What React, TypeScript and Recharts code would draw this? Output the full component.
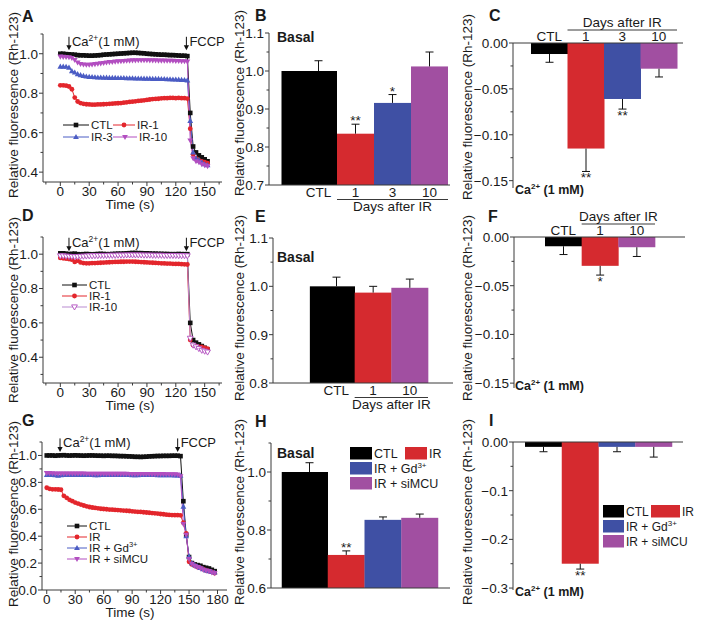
import React from 'react';
import { LineChart, Line, BarChart, Bar, XAxis, YAxis, ReferenceDot } from 'recharts';

const FONT = '"Liberation Sans", Arial, Helvetica, sans-serif';
const AXIS = '#3a3a3a';
const TXT = '#1a1a1a';

// trace colours
const C_CTL = '#111111';
const C_RED = '#e3262c';
const C_BLUE = '#4b5cc4';
const C_PURPLE = '#b24ec0';
const C_PURPLE_OPEN = '#b98bd0';

// bar colours
const BAR4 = ['#000000', '#d52a2f', '#3f50a4', '#a14fa1'];
const BAR3 = ['#000000', '#d52a2f', '#a14fa1'];

// ---------- time traces (s) ----------
const T_AD = [
  0, 3, 6, 9, 12, 15, 18, 21, 24, 27,
  30, 33, 36, 39, 42, 45, 48, 51, 54, 57,
  60, 63, 66, 69, 72, 75, 78, 81, 84, 87,
  90, 93, 96, 99, 102, 105, 108, 111, 114, 117,
  120, 123, 126, 129, 132, 135, 138, 141, 144, 147,
  150, 153,
];

const CTL_A = [
  1.0, 1.0, 0.998, 0.997, 0.996, 0.995, 0.993, 0.992, 0.992, 0.991,
  0.99, 0.99, 0.991, 0.992, 0.993, 0.995, 0.996, 0.997, 0.998, 0.999,
  1.0, 1.001, 1.002, 1.003, 1.004, 1.005, 1.005, 1.004, 1.003, 1.002,
  1.0, 0.999, 0.998, 0.997, 0.996, 0.995, 0.995, 0.994, 0.993, 0.993,
  0.992, 0.991, 0.99, 0.99, 0.988, 0.70, 0.53, 0.50, 0.485, 0.475,
  0.465, 0.455,
];
const IR1_A = [
  0.84, 0.84, 0.838, 0.834, 0.82, 0.778, 0.758, 0.75, 0.746, 0.744,
  0.743, 0.742, 0.742, 0.743, 0.743, 0.744, 0.745, 0.746, 0.747, 0.748,
  0.749, 0.75, 0.752, 0.754, 0.756, 0.757, 0.759, 0.761, 0.762, 0.764,
  0.766, 0.768, 0.77, 0.771, 0.772, 0.774, 0.775, 0.775, 0.776, 0.776,
  0.775, 0.776, 0.775, 0.775, 0.773, 0.62, 0.49, 0.47, 0.46, 0.455,
  0.45, 0.445,
];
const IR3_A = [
  0.935, 0.935, 0.934, 0.93, 0.912, 0.905, 0.897, 0.892, 0.888, 0.885,
  0.883, 0.882, 0.881, 0.88, 0.88, 0.879, 0.879, 0.878, 0.878, 0.878,
  0.877, 0.877, 0.877, 0.876, 0.876, 0.876, 0.875, 0.875, 0.875, 0.874,
  0.874, 0.874, 0.873, 0.873, 0.873, 0.872, 0.872, 0.871, 0.871, 0.87,
  0.87, 0.869, 0.868, 0.867, 0.865, 0.66, 0.50, 0.47, 0.46, 0.45,
  0.44, 0.435,
];
const IR10_A = [
  0.985, 0.984, 0.983, 0.982, 0.978, 0.968, 0.955, 0.948, 0.945, 0.944,
  0.944, 0.945, 0.947, 0.949, 0.951, 0.953, 0.955, 0.957, 0.958, 0.96,
  0.961, 0.962, 0.963, 0.964, 0.965, 0.966, 0.966, 0.967, 0.967, 0.967,
  0.967, 0.966, 0.966, 0.966, 0.965, 0.965, 0.965, 0.964, 0.964, 0.964,
  0.963, 0.963, 0.962, 0.962, 0.96, 0.56, 0.47, 0.455, 0.45, 0.44,
  0.435, 0.43,
];

const CTL_D = [
  1.005, 1.005, 1.003, 1.0, 1.002, 1.003, 1.0, 0.999, 1.0, 1.001,
  1.0, 0.999, 1.0, 1.001, 1.002, 1.001, 1.0, 1.0, 1.001, 1.002,
  1.003, 1.003, 1.004, 1.005, 1.006, 1.007, 1.007, 1.006, 1.006, 1.005,
  1.005, 1.004, 1.003, 1.003, 1.002, 1.002, 1.001, 1.001, 1.0, 1.0,
  1.0, 1.001, 1.0, 1.0, 1.0, 0.60, 0.50, 0.485, 0.475, 0.465,
  0.455, 0.445,
];
const IR1_D = [
  0.978, 0.976, 0.974, 0.972, 0.968, 0.955, 0.962, 0.952, 0.948, 0.947,
  0.947, 0.948, 0.948, 0.949, 0.95, 0.951, 0.952, 0.953, 0.954, 0.955,
  0.955, 0.956, 0.956, 0.957, 0.957, 0.957, 0.956, 0.955, 0.954, 0.953,
  0.952, 0.951, 0.95, 0.949, 0.948, 0.947, 0.946, 0.945, 0.945, 0.944,
  0.943, 0.943, 0.942, 0.941, 0.94, 0.50, 0.47, 0.465, 0.46, 0.46,
  0.455, 0.45,
];
const IR10_D = [
  0.99, 0.99, 0.988, 0.987, 0.986, 0.985, 0.986, 0.987, 0.988, 0.989,
  0.99, 0.99, 0.991, 0.991, 0.992, 0.992, 0.992, 0.993, 0.993, 0.993,
  0.994, 0.994, 0.994, 0.995, 0.995, 0.995, 0.995, 0.995, 0.995, 0.994,
  0.994, 0.994, 0.993, 0.993, 0.993, 0.993, 0.992, 0.992, 0.992, 0.992,
  0.992, 0.991, 0.991, 0.991, 0.99, 0.51, 0.47, 0.46, 0.45, 0.44,
  0.435, 0.43,
];

const T_G = [
  0, 3, 6, 9, 12, 15, 18, 21, 24, 27,
  30, 33, 36, 39, 42, 45, 48, 51, 54, 57,
  60, 63, 66, 69, 72, 75, 78, 81, 84, 87,
  90, 93, 96, 99, 102, 105, 108, 111, 114, 117,
  120, 123, 126, 129, 132, 135, 138, 141, 144, 147,
  150, 153, 156, 159, 162, 165, 168, 171, 174, 177,
];
const CTL_G = [
  1.0, 1.0, 1.0, 0.998, 1.0, 1.001, 1.002, 1.0, 0.999, 1.0,
  1.001, 1.0, 0.999, 0.998, 0.999, 1.0, 1.0, 0.999, 0.998, 0.998,
  0.997, 0.998, 0.998, 0.997, 0.997, 0.996, 0.995, 0.995, 0.994, 0.993,
  0.992, 0.99, 0.99, 0.989, 0.99, 0.991, 0.993, 0.994, 0.995, 0.996,
  0.996, 0.997, 0.997, 0.997, 0.998, 0.998, 0.998, 0.995, 0.66, 0.41,
  0.245, 0.2, 0.19, 0.185, 0.18, 0.17, 0.165, 0.16, 0.15, 0.14,
];
const IR_G = [
  0.76, 0.752, 0.748, 0.748, 0.747, 0.745, 0.70, 0.685, 0.67, 0.66,
  0.65, 0.642, 0.635, 0.628, 0.622, 0.617, 0.613, 0.61, 0.607, 0.604,
  0.602, 0.60, 0.598, 0.597, 0.595, 0.594, 0.592, 0.59, 0.589, 0.587,
  0.585, 0.583, 0.581, 0.58, 0.578, 0.576, 0.574, 0.572, 0.57, 0.568,
  0.565, 0.563, 0.56, 0.558, 0.557, 0.556, 0.556, 0.555, 0.50, 0.42,
  0.21, 0.19, 0.18, 0.17, 0.165, 0.155, 0.145, 0.14, 0.135, 0.125,
];
const GD_G = [
  0.855, 0.856, 0.855, 0.854, 0.85, 0.853, 0.855, 0.856, 0.856, 0.855,
  0.855, 0.855, 0.856, 0.856, 0.855, 0.855, 0.855, 0.854, 0.854, 0.855,
  0.855, 0.855, 0.855, 0.856, 0.856, 0.856, 0.855, 0.855, 0.855, 0.855,
  0.854, 0.854, 0.854, 0.855, 0.855, 0.855, 0.855, 0.855, 0.855, 0.854,
  0.854, 0.854, 0.853, 0.853, 0.853, 0.852, 0.852, 0.85, 0.62, 0.40,
  0.25, 0.20, 0.185, 0.175, 0.165, 0.155, 0.145, 0.14, 0.135, 0.13,
];
const SI_G = [
  0.868, 0.868, 0.867, 0.866, 0.866, 0.866, 0.865, 0.865, 0.865, 0.865,
  0.865, 0.865, 0.865, 0.865, 0.864, 0.864, 0.864, 0.864, 0.864, 0.864,
  0.864, 0.863, 0.863, 0.863, 0.863, 0.863, 0.863, 0.863, 0.863, 0.862,
  0.862, 0.862, 0.862, 0.862, 0.862, 0.862, 0.862, 0.861, 0.861, 0.861,
  0.861, 0.861, 0.86, 0.86, 0.86, 0.859, 0.858, 0.845, 0.49, 0.41,
  0.23, 0.195, 0.18, 0.17, 0.16, 0.15, 0.145, 0.14, 0.13, 0.125,
];

// ---------- bar panels ----------
const CAT_B = ['CTL', '1', '3', '10'];
const VAL_B = [1.0, 0.835, 0.916, 1.012];
const ERR_B = [0.027, 0.025, 0.022, 0.038];
const SIG_B = ['', '**', '*', ''];

const CAT_C = ['CTL', '1', '3', '10'];
const VAL_C = [-0.012, -0.115, -0.061, -0.028];
const ERR_C = [0.009, 0.025, 0.011, 0.009];
const SIG_C = ['', '**', '**', ''];

const CAT_E = ['CTL', '1', '10'];
const VAL_E = [1.0, 0.987, 0.997];
const ERR_E = [0.019, 0.013, 0.018];
const SIG_E = ['', '', ''];

const CAT_F = ['CTL', '1', '10'];
const VAL_F = [-0.0095, -0.0296, -0.0105];
const ERR_F = [0.0085, 0.0095, 0.0095];
const SIG_F = ['', '*', ''];

const CAT_HI = ['CTL', 'IR', 'IR + Gd3+', 'IR + siMCU'];
const VAL_H = [1.0, 0.714, 0.835, 0.842];
const ERR_H = [0.032, 0.014, 0.01, 0.013];
const SIG_H = ['', '**', '', ''];
const VAL_I = [-0.01, -0.25, -0.01, -0.01];
const ERR_I = [0.01, 0.011, 0.01, 0.021];
const SIG_I = ['', '**', '', ''];

// ---------- axis ticks ----------
const X_MAJ_AD = [0, 30, 60, 90, 120, 150];
const X_MIN_AD = [-15, 15, 45, 75, 105, 135, 165];
const X_MAJ_G = [0, 30, 60, 90, 120, 150, 180];
const X_MIN_G = [15, 45, 75, 105, 135, 165];
const Y_MAJ_AD = [0.4, 0.6, 0.8, 1.0];
const Y_LAB_AD = ['0.4', '0.6', '0.8', '1.0'];
const Y_MIN_A = [0.5, 0.7, 0.9, 1.1];
const Y_MIN_D = [0.3, 0.5, 0.7, 0.9, 1.1];
const Y_MAJ_G = [0, 0.2, 0.4, 0.6, 0.8, 1.0];
const Y_LAB_G = ['0.0', '0.2', '0.4', '0.6', '0.8', '1.0'];
const Y_MIN_G = [0.1, 0.3, 0.5, 0.7, 0.9, 1.1];

const Y_MAJ_B = [0.7, 0.8, 0.9, 1.0, 1.1];
const Y_LAB_B = ['0.7', '0.8', '0.9', '1.0', '1.1'];
const Y_MIN_B = [0.75, 0.85, 0.95, 1.05];
const Y_MAJ_E = [0.8, 0.9, 1.0, 1.1];
const Y_LAB_E = ['0.8', '0.9', '1.0', '1.1'];
const Y_MIN_E = [0.85, 0.95, 1.05];
const Y_MAJ_H = [0.6, 0.8, 1.0];
const Y_LAB_H = ['0.6', '0.8', '1.0'];
const Y_MIN_H = [0.7, 0.9, 1.1];
const Y_MAJ_CF = [0, -0.05, -0.1, -0.15];
const Y_LAB_CF = ['0.00', '\u22120.05', '\u22120.10', '\u22120.15'];
const Y_MIN_CF = [-0.025, -0.075, -0.125];
const Y_MAJ_I = [0, -0.1, -0.2, -0.3];
const Y_LAB_I = ['0.00', '\u22120.1', '\u22120.2', '\u22120.3'];
const Y_MIN_I = [-0.05, -0.15, -0.25];

type Kind = 'square' | 'circle' | 'up' | 'down';

const Mark = ({ kind, cx, cy, color, open }: { kind: Kind; cx: number; cy: number; color: string; open?: boolean }) => {
  const fill = open ? '#ffffff' : color;
  const sw = open ? 0.9 : 0;
  if (kind === 'square') return <rect x={cx - 2.3} y={cy - 2.3} width={4.6} height={4.6} fill={fill} stroke={color} strokeWidth={sw} />;
  if (kind === 'circle') return <circle cx={cx} cy={cy} r={2.4} fill={fill} stroke={color} strokeWidth={sw} />;
  if (kind === 'up') return <path d={`M${cx},${cy - 3} L${cx + 2.9},${cy + 2.1} L${cx - 2.9},${cy + 2.1} Z`} fill={fill} stroke={color} strokeWidth={sw} />;
  return <path d={`M${cx},${cy + 3} L${cx + 2.9},${cy - 2.1} L${cx - 2.9},${cy - 2.1} Z`} fill={fill} stroke={color} strokeWidth={sw} />;
};

const isIn = (list: number[], v: number) => list.findIndex((m) => Math.abs(m - v) < 1e-9);

const YTick = (p: any) => {
  const { x, y, payload, majors, labels } = p;
  const i = isIn(majors, payload.value);
  return (
    <g>
      <line x1={x} x2={x - (i >= 0 ? 4 : 2.5)} y1={y} y2={y} stroke={AXIS} />
      {i >= 0 && (
        <text x={x - 5} y={y} dy="0.36em" textAnchor="end" fontSize={13.5} fontFamily={FONT} fill={TXT}>
          {labels[i]}
        </text>
      )}
    </g>
  );
};

const XTick = (p: any) => {
  const { x, y, payload, majors } = p;
  const i = isIn(majors, payload.value);
  return (
    <g>
      <line x1={x} x2={x} y1={y} y2={y + (i >= 0 ? 4 : 2.5)} stroke={AXIS} />
      {i >= 0 && (
        <text x={x} y={y + 13.5} textAnchor="middle" fontSize={13.5} fontFamily={FONT} fill={TXT}>
          {String(payload.value)}
        </text>
      )}
    </g>
  );
};

const EventMark = ({ cx, cy, kind }: { cx: number; cy: number; kind: string }) => (
  <g>
    <line x1={cx} x2={cx} y1={cy - 13} y2={cy - 3} stroke="#111" strokeWidth={1} />
    <path d={`M${cx - 2.6},${cy - 4.5} L${cx + 2.6},${cy - 4.5} L${cx},${cy + 0.5} Z`} fill="#111" />
    <text x={cx + 3} y={cy - 4} fontSize={13} fontFamily={FONT} fill={TXT}>
      {kind === 'ca' ? (
        <>
          <tspan>Ca</tspan>
          <tspan dy={-5} fontSize={8.5}>2+</tspan>
          <tspan dy={5}>(1 mM)</tspan>
        </>
      ) : (
        'FCCP'
      )}
    </text>
  </g>
);

type Series = { name: string; vals: number[]; color: string; kind: Kind; open?: boolean };

type LineCfg = {
  times: number[];
  series: Series[];
  box: [number, number, number, number];
  xDomain: [number, number];
  xMaj: number[];
  xMin: number[];
  yDomain: [number, number];
  yMaj: number[];
  yLab: string[];
  yMin: number[];
  events: { t: number; y: number; kind: string }[];
};

const LinePanel = ({ cfg }: { cfg: LineCfg }) => {
  const [x0, y0, x1, y1] = cfg.box;
  const LM = 40, RM = 14, TM = 14, BM = 30;
  const W = x1 - x0 + LM + RM;
  const H = y1 - y0 + TM + BM;
  const data = cfg.times.map((t, i) => {
    const row: any = { t };
    cfg.series.forEach((s) => (row[s.name] = s.vals[i]));
    return row;
  });
  return (
    <div style={{ position: 'absolute', left: x0 - LM, top: y0 - TM, width: W, height: H }}>
      <LineChart width={W} height={H} data={data} margin={{ top: TM, right: RM, bottom: 0, left: 0 }}>
        <XAxis
          type="number"
          dataKey="t"
          domain={cfg.xDomain}
          allowDataOverflow
          ticks={[...cfg.xMaj, ...cfg.xMin]}
          interval={0}
          height={BM}
          tickSize={0}
          tickMargin={0}
          tickLine={false}
          axisLine={{ stroke: AXIS }}
          tick={(p: any) => <XTick {...p} majors={cfg.xMaj} />}
        />
        <YAxis
          type="number"
          domain={cfg.yDomain}
          allowDataOverflow
          ticks={[...cfg.yMaj, ...cfg.yMin]}
          interval={0}
          width={LM}
          tickSize={0}
          tickMargin={0}
          tickLine={false}
          axisLine={{ stroke: AXIS }}
          tick={(p: any) => <YTick {...p} majors={cfg.yMaj} labels={cfg.yLab} />}
        />
        {cfg.series.map((s) => (
          <Line
            key={s.name}
            dataKey={s.name}
            stroke={s.open ? C_PURPLE_OPEN : s.color}
            strokeWidth={1}
            isAnimationActive={false}
            activeDot={false}
            dot={(p: any) => <Mark key={`${s.name}-${p.index}`} kind={s.kind} cx={p.cx} cy={p.cy} color={s.color} open={s.open} />}
          />
        ))}
        {cfg.events.map((e) => (
          <ReferenceDot
            key={e.kind}
            x={e.t}
            y={e.y}
            r={0}
            ifOverflow="visible"
            shape={(p: any) => <EventMark cx={p.cx} cy={p.cy} kind={e.kind} />}
          />
        ))}
      </LineChart>
    </div>
  );
};

type BarCfg = {
  cats: string[];
  vals: number[];
  errs: number[];
  sigs: string[];
  colors: string[];
  box: [number, number, number, number];
  domain: [number, number];
  yMaj: number[];
  yLab: string[];
  yMin: number[];
  pad: [number, number];
  widen: number;
  top: boolean;
  showCats: boolean;
  bracket?: string;
};

const CatTick = (p: any) => {
  const { x, y, payload, index, top, show, bracket, bw, n } = p;
  if (!show) return <g />;
  const ly = top ? y - 2.5 : y + 12;
  const xa = x - bw / 2;
  const xb = xa + (n - 1) * bw;
  return (
    <g>
      <text x={x} y={ly} textAnchor="middle" fontSize={13.5} fontFamily={FONT} fill={TXT}>
        {payload.value}
      </text>
      {bracket && index === 1 && (
        <g>
          <line x1={xa} x2={xb} y1={top ? y - 13 : y + 14.5} y2={top ? y - 13 : y + 14.5} stroke={AXIS} />
          <text x={(xa + xb) / 2} y={top ? y - 16.5 : y + 25.5} textAnchor="middle" fontSize={13.5} fontFamily={FONT} fill={TXT}>
            {bracket}
          </text>
        </g>
      )}
    </g>
  );
};

const BarPanel = ({ cfg }: { cfg: BarCfg }) => {
  const [x0, y0, x1, y1] = cfg.box;
  const LM = 45, RM = 8;
  const TM = cfg.top ? 32 : 8;
  const BM = cfg.top ? 8 : 36;
  const W = x1 - x0 + LM + RM;
  const H = y1 - y0 + TM + BM;
  const n = cfg.cats.length;
  const bw = (x1 - x0 - cfg.pad[0] - cfg.pad[1]) / n;
  const base = cfg.domain[0] > 0 ? cfg.domain[0] : cfg.domain[1] < 0 ? cfg.domain[1] : 0;
  const data = cfg.cats.map((name, i) => ({ name, value: cfg.vals[i], err: cfg.errs[i], sig: cfg.sigs[i] }));

  const shape = (p: any) => {
    const { x, y, width, height, payload } = p;
    const idx = typeof p.index === 'number' ? p.index : cfg.cats.indexOf(payload.name);
    const v = payload.value;
    const top = Math.min(y, y + height);
    const h = Math.abs(height);
    const ppu = h / Math.abs(v - base);
    const ext = idx === 0 ? width * cfg.widen : 0;
    const bx = x - ext;
    const bwid = width + ext;
    const cx = x + width / 2;
    const up = v > base;
    const endY = up ? top : top + h;
    const tipY = up ? endY - payload.err * ppu : endY + payload.err * ppu;
    return (
      <g>
        <rect x={bx} y={top} width={bwid} height={h} fill={cfg.colors[idx]} />
        <line x1={cx} x2={cx} y1={endY} y2={tipY} stroke="#111" strokeWidth={1} />
        <line x1={cx - 4} x2={cx + 4} y1={tipY} y2={tipY} stroke="#111" strokeWidth={1} />
        {payload.sig && (
          <text x={cx} y={up ? tipY + 1 : tipY + 11} textAnchor="middle" fontSize={13.5} fontFamily={FONT} fill={TXT}>
            {payload.sig}
          </text>
        )}
      </g>
    );
  };

  return (
    <div style={{ position: 'absolute', left: x0 - LM, top: y0 - TM, width: W, height: H }}>
      <BarChart
        width={W}
        height={H}
        data={data}
        margin={{ top: cfg.top ? 0 : TM, right: RM, bottom: cfg.top ? BM : 0, left: 0 }}
        barCategoryGap={0}
        barGap={0}
      >
        <XAxis
          dataKey="name"
          orientation={cfg.top ? 'top' : 'bottom'}
          height={cfg.top ? TM : BM}
          padding={{ left: cfg.pad[0], right: cfg.pad[1] }}
          interval={0}
          tickSize={0}
          tickMargin={0}
          tickLine={false}
          axisLine={{ stroke: AXIS }}
          tick={(p: any) => <CatTick {...p} top={cfg.top} show={cfg.showCats} bracket={cfg.bracket} bw={bw} n={n} />}
        />
        <YAxis
          type="number"
          domain={cfg.domain}
          allowDataOverflow
          ticks={[...cfg.yMaj, ...cfg.yMin]}
          interval={0}
          width={LM}
          tickSize={0}
          tickMargin={0}
          tickLine={false}
          axisLine={{ stroke: AXIS }}
          tick={(p: any) => <YTick {...p} majors={cfg.yMaj} labels={cfg.yLab} />}
        />
        <Bar dataKey="value" isAnimationActive={false} shape={shape} />
      </BarChart>
    </div>
  );
};

const SERIES_A: Series[] = [
  { name: 'CTL', vals: CTL_A, color: C_CTL, kind: 'square' },
  { name: 'IR-1', vals: IR1_A, color: C_RED, kind: 'circle' },
  { name: 'IR-3', vals: IR3_A, color: C_BLUE, kind: 'up' },
  { name: 'IR-10', vals: IR10_A, color: C_PURPLE, kind: 'down' },
];
const SERIES_D: Series[] = [
  { name: 'CTL', vals: CTL_D, color: C_CTL, kind: 'square' },
  { name: 'IR-1', vals: IR1_D, color: C_RED, kind: 'circle' },
  { name: 'IR-10', vals: IR10_D, color: C_PURPLE, kind: 'down', open: true },
];
const SERIES_G: Series[] = [
  { name: 'CTL', vals: CTL_G, color: C_CTL, kind: 'square' },
  { name: 'IR', vals: IR_G, color: C_RED, kind: 'circle' },
  { name: 'IR + Gd', vals: GD_G, color: C_BLUE, kind: 'up' },
  { name: 'IR + siMCU', vals: SI_G, color: C_PURPLE, kind: 'down' },
];

const PANEL_A: LineCfg = {
  times: T_AD, series: SERIES_A, box: [43, 34, 222, 182], xDomain: [-18, 168], xMaj: X_MAJ_AD, xMin: X_MIN_AD,
  yDomain: [0.35, 1.1], yMaj: Y_MAJ_AD, yLab: Y_LAB_AD, yMin: Y_MIN_A,
  events: [{ t: 9, y: 1.02, kind: 'ca' }, { t: 131, y: 1.02, kind: 'fccp' }],
};
const PANEL_D: LineCfg = {
  times: T_AD, series: SERIES_D, box: [43, 237, 222, 383], xDomain: [-18, 168], xMaj: X_MAJ_AD, xMin: X_MIN_AD,
  yDomain: [0.25, 1.1], yMaj: Y_MAJ_AD, yLab: Y_LAB_AD, yMin: Y_MIN_D,
  events: [{ t: 9, y: 1.02, kind: 'ca' }, { t: 131, y: 1.02, kind: 'fccp' }],
};
const PANEL_G: LineCfg = {
  times: T_G, series: SERIES_G, box: [42, 442, 227, 590], xDomain: [-5, 190], xMaj: X_MAJ_G, xMin: X_MIN_G,
  yDomain: [0, 1.1], yMaj: Y_MAJ_G, yLab: Y_LAB_G, yMin: Y_MIN_G,
  events: [{ t: 14, y: 1.03, kind: 'ca' }, { t: 138, y: 1.03, kind: 'fccp' }],
};

const PANEL_B: BarCfg = {
  cats: CAT_B, vals: VAL_B, errs: ERR_B, sigs: SIG_B, colors: BAR4, box: [269, 33, 450, 185], domain: [0.7, 1.1],
  yMaj: Y_MAJ_B, yLab: Y_LAB_B, yMin: Y_MIN_B, pad: [31, 2], widen: 0.5, top: false, showCats: true, bracket: 'Days after IR',
};
const PANEL_C: BarCfg = {
  cats: CAT_C, vals: VAL_C, errs: ERR_C, sigs: SIG_C, colors: BAR4, box: [513, 43, 683, 188], domain: [-0.158, 0],
  yMaj: Y_MAJ_CF, yLab: Y_LAB_CF, yMin: Y_MIN_CF, pad: [18, 6], widen: 0, top: true, showCats: true, bracket: 'Days after IR',
};
const PANEL_E: BarCfg = {
  cats: CAT_E, vals: VAL_E, errs: ERR_E, sigs: SIG_E, colors: BAR3, box: [273, 238, 453, 383], domain: [0.8, 1.1],
  yMaj: Y_MAJ_E, yLab: Y_LAB_E, yMin: Y_MIN_E, pad: [45, 25], widen: 0.22, top: false, showCats: true, bracket: 'Days after IR',
};
const PANEL_F: BarCfg = {
  cats: CAT_F, vals: VAL_F, errs: ERR_F, sigs: SIG_F, colors: BAR3, box: [514, 237, 685, 388], domain: [-0.155, 0],
  yMaj: Y_MAJ_CF, yLab: Y_LAB_CF, yMin: Y_MIN_CF, pad: [31, 30], widen: 0, top: true, showCats: true, bracket: 'Days after IR',
};
const PANEL_H: BarCfg = {
  cats: CAT_HI, vals: VAL_H, errs: ERR_H, sigs: SIG_H, colors: BAR4, box: [271, 443, 450, 588], domain: [0.6, 1.1],
  yMaj: Y_MAJ_H, yLab: Y_LAB_H, yMin: Y_MIN_H, pad: [20, 12], widen: 0.25, top: false, showCats: false,
};
const PANEL_I: BarCfg = {
  cats: CAT_HI, vals: VAL_I, errs: ERR_I, sigs: SIG_I, colors: BAR4, box: [513, 442, 683, 590], domain: [-0.304, 0],
  yMaj: Y_MAJ_I, yLab: Y_LAB_I, yMin: Y_MIN_I, pad: [12, 11], widen: 0, top: true, showCats: false,
};

const T = (props: any) => <text fontFamily={FONT} fill={TXT} {...props} />;

const YTitle = ({ x, y }: { x: number; y: number }) => (
  <T transform={`translate(${x},${y}) rotate(-90)`} textAnchor="middle" dominantBaseline="central" fontSize={13.5}>
    Relative fluorescence (Rh-123)
  </T>
);

const CaLabel = ({ x, y }: { x: number; y: number }) => (
  <T x={x} y={y} fontSize={12.5} fontWeight={700}>
    <tspan>Ca</tspan>
    <tspan dy={-5.5} fontSize={8}>2+</tspan>
    <tspan dy={5.5}> (1 mM)</tspan>
  </T>
);

const LineLegend = ({ items }: { items: { s: Series; x: number; y: number; len: number }[] }) => (
  <g>
    {items.map(({ s, x, y, len }) => (
      <g key={s.name + x + y}>
        <line x1={x} x2={x + len} y1={y} y2={y} stroke={s.open ? C_PURPLE_OPEN : s.color} strokeWidth={1} />
        <Mark kind={s.kind} cx={x + len / 2} cy={y} color={s.color} open={s.open} />
        <T x={x + len + 2} y={y} dy="0.36em" fontSize={11.5}>
          {s.name === 'IR + Gd' ? (
            <>
              <tspan>IR + Gd</tspan>
              <tspan dy={-5} fontSize={7.5}>3+</tspan>
            </>
          ) : (
            s.name
          )}
        </T>
      </g>
    ))}
  </g>
);

const BarLegend = ({ items, fs }: { items: { label: string; color: string; x: number; y: number; w: number }[]; fs: number }) => (
  <g>
    {items.map((it) => (
      <g key={it.label}>
        <rect x={it.x} y={it.y} width={it.w} height={12.5} fill={it.color} />
        <T x={it.x + it.w + 2} y={it.y + 11} fontSize={fs}>
          {it.label === 'IR + Gd3+' ? (
            <>
              <tspan>IR + Gd</tspan>
              <tspan dy={-5} fontSize={8}>3+</tspan>
            </>
          ) : (
            it.label
          )}
        </T>
      </g>
    ))}
  </g>
);

const Overlay = () => (
  <svg width={701} height={626} style={{ position: 'absolute', left: 0, top: 0, pointerEvents: 'none' }}>
    {[
      ['A', 22, 22], ['B', 255, 21], ['C', 489, 21],
      ['D', 22, 221], ['E', 255, 222], ['F', 488, 222],
      ['G', 22, 426], ['H', 255, 427], ['I', 489, 426],
    ].map(([l, x, y]) => (
      <T key={l as string} x={x} y={y} fontSize={16} fontWeight={700}>
        {l}
      </T>
    ))}
    <YTitle x={13} y={105} />
    <YTitle x={239} y={103} />
    <YTitle x={467} y={107} />
    <YTitle x={13} y={310} />
    <YTitle x={239} y={308} />
    <YTitle x={467} y={308} />
    <YTitle x={13} y={514} />
    <YTitle x={239} y={512} />
    <YTitle x={467} y={512} />

    <T x={130} y={209} textAnchor="middle" fontSize={13.5}>Time (s)</T>
    <T x={130} y={410} textAnchor="middle" fontSize={13.5}>Time (s)</T>
    <T x={130} y={617} textAnchor="middle" fontSize={13.5}>Time (s)</T>

    <T x={277} y={42} fontSize={14} fontWeight={700}>Basal</T>
    <T x={277} y={262} fontSize={14} fontWeight={700}>Basal</T>
    <T x={277} y={458} fontSize={14} fontWeight={700}>Basal</T>

    <CaLabel x={515} y={194} />
    <CaLabel x={515} y={390} />
    <CaLabel x={515} y={596} />

    <LineLegend
      items={[
        { s: SERIES_A[0], x: 63, y: 125, len: 26 },
        { s: SERIES_A[1], x: 113, y: 125, len: 22 },
        { s: SERIES_A[2], x: 63, y: 137, len: 26 },
        { s: SERIES_A[3], x: 113, y: 137, len: 24 },
      ]}
    />
    <LineLegend
      items={[
        { s: SERIES_D[0], x: 62, y: 285, len: 25 },
        { s: SERIES_D[1], x: 62, y: 296, len: 25 },
        { s: SERIES_D[2], x: 62, y: 307, len: 25 },
      ]}
    />
    <LineLegend
      items={[
        { s: SERIES_G[0], x: 67, y: 526, len: 20 },
        { s: SERIES_G[1], x: 67, y: 537, len: 20 },
        { s: SERIES_G[2], x: 67, y: 548, len: 20 },
        { s: SERIES_G[3], x: 67, y: 559, len: 20 },
      ]}
    />
    <BarLegend
      fs={12.5}
      items={[
        { label: CAT_HI[0], color: BAR4[0], x: 350, y: 447, w: 22 },
        { label: CAT_HI[1], color: BAR4[1], x: 405, y: 447, w: 22 },
        { label: CAT_HI[2], color: BAR4[2], x: 350, y: 462, w: 22 },
        { label: CAT_HI[3], color: BAR4[3], x: 350, y: 477, w: 22 },
      ]}
    />
    <BarLegend
      fs={12}
      items={[
        { label: CAT_HI[0], color: BAR4[0], x: 603, y: 505, w: 21 },
        { label: CAT_HI[1], color: BAR4[1], x: 651, y: 505, w: 29 },
        { label: CAT_HI[2], color: BAR4[2], x: 603, y: 520, w: 21 },
        { label: CAT_HI[3], color: BAR4[3], x: 603, y: 535, w: 21 },
      ]}
    />
  </svg>
);

export default function App() {
  return (
    <div style={{ position: 'absolute', left: 0, top: 0, width: 701, height: 626, background: '#fff', fontFamily: FONT }}>
      <LinePanel cfg={PANEL_A} />
      <BarPanel cfg={PANEL_B} />
      <BarPanel cfg={PANEL_C} />
      <LinePanel cfg={PANEL_D} />
      <BarPanel cfg={PANEL_E} />
      <BarPanel cfg={PANEL_F} />
      <LinePanel cfg={PANEL_G} />
      <BarPanel cfg={PANEL_H} />
      <BarPanel cfg={PANEL_I} />
      <Overlay />
    </div>
  );
}
